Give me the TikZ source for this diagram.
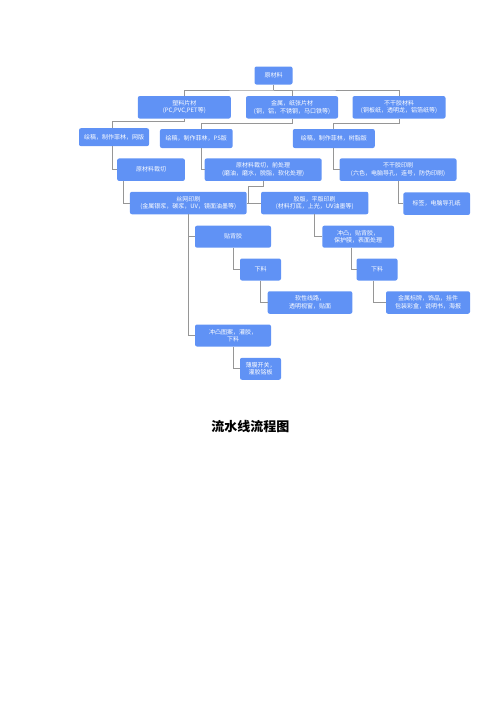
\documentclass[tikz,border=0pt]{standalone}
\usepackage{fontspec}
\newfontfamily\cjk{Noto Sans CJK SC}
\definecolor{boxblue}{RGB}{96,146,245}
\definecolor{linegray}{RGB}{150,150,150}
\tikzset{every picture/.style={line width=0.8pt}}
\tikzset{
  box/.style={rectangle, rounded corners=2pt, fill=boxblue, text=white,
              font=\cjk\fontsize{6}{7.5}\selectfont, align=center,
              minimum width=#1, minimum height=22.5pt,
              inner sep=1pt, outer sep=0pt},
  box/.default={41pt}, % default width of the box
  link/.style={draw=linegray},
  heading/.style={font=\cjk\bfseries\fontsize{13}{15}\selectfont, inner sep=0pt},
}

\begin{document}
\begin{tikzpicture}[x=1pt, y=-1pt]
  \useasboundingbox (0,0) rectangle (500,707);
  % first and second row
  \node[box=38pt, minimum height=18pt] (raw) at (273.5,75.5) {原材料};
  \node[box=93pt] (plastic) at (184.3,107.3) {塑料片材\\(PC,PVC,PET等)};
  \node[box=92pt] (metal) at (292,107.3) {金属，纸张片材\\(铜，铝，不锈钢，马口铁等)};
  \node[box=93pt] (adhesive) at (399,107.3) {不干胶材料\\(铜板纸，透明龙，铝箔纸等)};
  % plate making
  \node[box=70pt, minimum height=18pt] (screenplate) at (114,137.2) {绘稿，制作菲林，网版};
  \node[box=72.7pt, minimum height=19pt] (psplate) at (196.3,138.5) {绘稿，制作菲林，PS版};
  \node[box=82pt, minimum height=19pt] (resinplate) at (333.8,138.5) {绘稿，制作菲林，树脂版};
  % cutting
  \node[box=67.7pt] (cut) at (151,169.7) {原材料裁切};
  \node[box=117pt] (precut) at (263.2,169.7) {原材料裁切，前处理\\(磨油，磨水，脱脂，软化处理)};
  \node[box=117pt] (adprint) at (398,169.7) {不干胶印刷\\(六色，电脑导孔，连号，防伪印刷)};
  % printing
  \node[box=116.7pt] (silk) at (188.3,203) {丝网印刷\\(金属银浆，碳浆，UV，镜面油墨等)};
  \node[box=107.3pt] (offset) at (314.7,203) {胶版，平版印刷\\(材料打底，上光，UV油墨等)};
  \node[box=66.7pt] (tag) at (436.7,203.7) {标签，电脑导孔纸};
  % finishing
  \node[box=76pt, minimum height=22pt] (backglue) at (233,236.7) {贴背胶};
  \node[box=71.7pt, minimum height=22pt] (emboss) at (358.2,236.7) {冲凸，贴背胶，\\保护膜，表面处理};
  \node[box, minimum height=22pt] (blankA) at (260.5,269.5) {下料};
  \node[box, minimum height=22pt] (blankB) at (377,269.5) {下料};
  \node[box=84.7pt] (circuit) at (310,302.5) {软性线路，\\透明视窗，贴面};
  \node[box=84pt] (sign) at (428,302.5) {金属标牌，饰品，挂件\\包装彩盒，说明书，海报};
  \node[box=76pt, minimum height=22pt] (pattern) at (233,335.5) {冲凸图案，灌胶，\\下料};
  \node[box, minimum height=22pt] (membrane) at (260.5,368.8) {薄膜开关，\\灌胶铭板};
  \node[heading] (title) at (250.3,426.7) {流水线流程图};

  % connect boxes
  \coordinate (bus) at (273.5,90);
  \draw[link] (raw.south) -- (bus);
  \draw[link] (plastic.north) |- (bus) -| (adhesive.north);
  \draw[link] (bus) -| (metal.north);
  \draw[link] (plastic.south) -- ++(0,3.3) -| ([xshift=-1.3pt]screenplate.north);
  \draw[link] (metal.south) -- ++(0,4.7) -| ([xshift=4.7pt]psplate.north);
  \draw[link] (adhesive.south) -- ++(0,5.3) -| ([xshift=-0.8pt]resinplate.north);
  \draw[link] ([xshift=-1.3pt]screenplate.south) |- (cut.west);
  \draw[link] ([xshift=4.7pt]psplate.south) |- (precut.west);
  \draw[link] ([xshift=-0.8pt]resinplate.south) |- (adprint.west);
  \draw[link] ([xshift=6pt]cut.south west) |- (silk.west);
  \coordinate (fork) at (248.3,203);
  \draw[link] (precut.south) -- ++(0,5) -| (fork);
  \draw[link] (silk.east) -- (offset.west);
  \draw[link] (adprint.south) |- (tag.west);
  \draw[link] (silk.south) |- (backglue.west);
  \draw[link] (silk.south) |- (pattern.west);
  \draw[link] (offset.south) |- (emboss.west);
  \draw[link] (backglue.south) |- (blankA.west);
  \draw[link] (blankA.south) |- (circuit.west);
  \draw[link] ([xshift=-6.5pt]emboss.south) |- (blankB.west);
  \draw[link] ([xshift=-3.7pt]blankB.south) |- (sign.west);
  \draw[link] (pattern.south) |- (membrane.west);
\end{tikzpicture}
\end{document}
